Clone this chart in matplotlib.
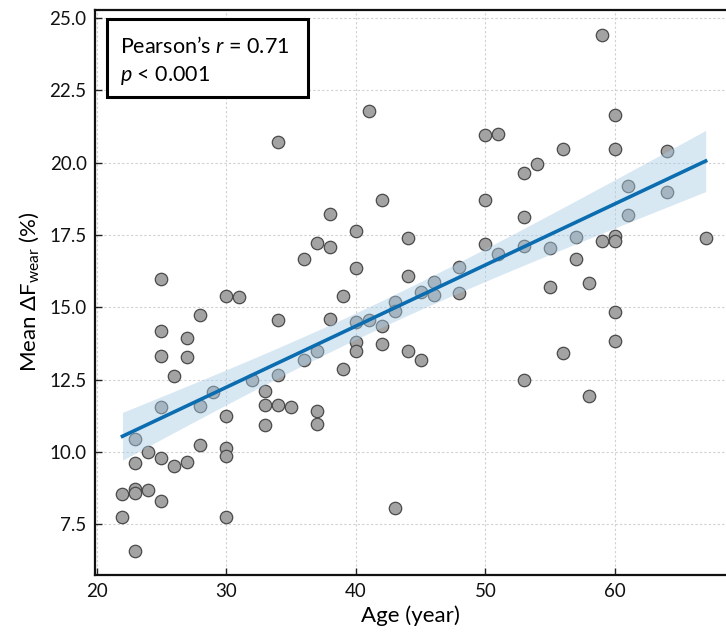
import numpy as np
import matplotlib
matplotlib.use("Agg")
import matplotlib.pyplot as plt
from matplotlib.patches import Rectangle

age = [34, 36, 25, 30, 31, 28, 34, 25, 27, 25, 27, 36, 26, 34, 32, 29, 33, 25, 28, 33,
       34, 35, 30, 33, 23, 28, 30, 30, 24, 25, 23, 27, 26, 22, 23, 23, 24, 25, 22, 30,
       23, 41, 50, 51, 42, 50, 53, 38, 40, 37, 38, 44, 50, 51, 53, 40, 44, 39, 48, 48,
       46, 46, 45, 43, 43, 38, 40, 41, 42, 37, 40, 40, 42, 44, 45, 39, 53, 37, 37, 43,
       59, 60, 56, 60, 54, 64, 61, 64, 61, 53, 55, 57, 59, 60, 60, 67, 57, 55, 58, 60,
       60, 56, 58]
delta_f = [20.72, 16.68, 15.97, 15.39, 15.35, 14.72, 14.55, 14.17, 13.95, 13.32, 13.29, 13.18,
           12.63, 12.66, 12.50, 12.06, 12.12, 11.57, 11.59, 11.62, 11.62, 11.56, 11.24, 10.93,
           10.45, 10.23, 10.13, 9.86, 9.99, 9.80, 9.62, 9.64, 9.53, 8.55, 8.71, 8.57, 8.69,
           8.32, 7.75, 7.76, 6.59, 21.80, 20.96, 21.00, 18.71, 18.71, 19.65, 18.22, 17.65,
           17.23, 17.10, 17.39, 17.19, 16.84, 18.12, 16.37, 16.09, 15.40, 16.38, 15.48, 15.88,
           15.43, 15.54, 15.19, 14.88, 14.59, 14.50, 14.56, 14.37, 13.49, 13.81, 13.49, 13.72,
           13.49, 13.18, 12.87, 12.49, 11.43, 10.96, 8.06, 24.41, 21.66, 20.47, 20.47, 19.95,
           20.40, 19.20, 18.98, 18.19, 17.12, 17.04, 17.42, 17.30, 17.47, 17.28, 17.39, 16.67,
           15.71, 15.85, 14.85, 13.84, 13.43, 11.92]
x_ticks = [20, 30, 40, 50, 60]
y_ticks = [7.5, 10.0, 12.5, 15.0, 17.5, 20.0, 22.5, 25.0]
stat_line1 = "Pearson\u2019s $\\mathit{r}$ = 0.71"
stat_line2 = "$\\mathit{p}$ < 0.001"

plt.rcParams['font.family'] = ['Lato', 'DejaVu Sans']
plt.rcParams['mathtext.fontset'] = 'custom'
plt.rcParams['mathtext.rm'] = 'Lato'
plt.rcParams['mathtext.it'] = 'Lato:italic'

W, H = 726, 632
fig = plt.figure(figsize=(W / 100, H / 100), dpi=100)
L, R, T, B = 95, 726, 9.5, 575
ax = fig.add_axes([L / W, 1 - B / H, (R - L) / W, (B - T) / H])

x = np.array(age, dtype=float)
y = np.array(delta_f, dtype=float)

ax.scatter(x, y, s=80, facecolor='#a3a3a3', edgecolor='#4a4a4a', linewidth=0.9, zorder=3)

# regression + confidence band
slope, intercept = np.polyfit(x, y, 1)
xs = np.linspace(x.min(), x.max(), 200)
ys = intercept + slope * xs
n = len(x)
resid = y - (intercept + slope * x)
s_err = np.sqrt(np.sum(resid ** 2) / (n - 2))
tval = 1.75
ci = tval * s_err * np.sqrt(1 / n + (xs - x.mean()) ** 2 / np.sum((x - x.mean()) ** 2))
ax.fill_between(xs, ys - ci, ys + ci, color='#a9cde6', alpha=0.45, linewidth=0, zorder=4)
ax.plot(xs, ys, color='#0b6db0', linewidth=2.6, zorder=5)

ax.set_xlim(19.88, 68.57)
ax.set_ylim(5.75, 25.29)
ax.set_xticks(x_ticks)
ax.set_yticks(y_ticks)
ax.set_yticklabels([f"{v:.1f}" for v in y_ticks])
ax.grid(True, color='#d0d0d0', linestyle=(0, (2, 2)), linewidth=0.8, zorder=0)
ax.set_axisbelow(True)
ax.tick_params(direction='in', length=5, width=1, labelsize=13.5, colors='#222222',
               labelcolor='#111111', pad=6)
ax.spines['right'].set_visible(False)
for sp in ['left', 'bottom', 'top']:
    ax.spines[sp].set_linewidth(1.6)
    ax.spines[sp].set_color('#111111')

ax.set_xlabel("Age (year)", fontsize=16, labelpad=4)
ax.set_ylabel("Mean \u0394F$_{\\mathregular{wear}}$ (%)", fontsize=16, labelpad=6)

# statistics box
aw, ah = R - L, B - T
def fx(px):
    return (px - L) / aw
def fy(py):
    return 1 - (py - T) / ah
rect = Rectangle((fx(107), fy(97)), fx(308) - fx(107), fy(19) - fy(97),
                 transform=ax.transAxes, fill=True, facecolor='white',
                 edgecolor='black', linewidth=2.2, zorder=6)
ax.add_patch(rect)
ax.text(fx(120), fy(53), stat_line1, transform=ax.transAxes, fontsize=15.5,
        va='baseline', ha='left', zorder=7)
ax.text(fx(120), fy(81), stat_line2, transform=ax.transAxes, fontsize=15.5,
        va='baseline', ha='left', zorder=7)

fig.savefig("out.png", dpi=100)
